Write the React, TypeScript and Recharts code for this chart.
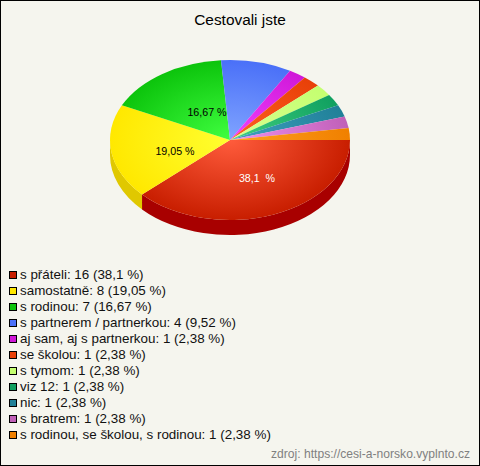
import React from "react";
import { PieChart, Pie, Legend } from "recharts";

const categories = ["s přáteli", "samostatně", "s rodinou", "s partnerem / partnerkou", "aj sam, aj s partnerkou", "se školou", "s tymom", "viz 12", "nic", "s bratrem", "s rodinou, se školou, s rodinou"];
const counts = [16, 8, 7, 4, 1, 1, 1, 1, 1, 1, 1];
const percents = ["38,1", "19,05", "16,67", "9,52", "2,38", "2,38", "2,38", "2,38", "2,38", "2,38", "2,38"];
const swatch = ["#c81e00", "#ffe800", "#0cc40c", "#4a70f8", "#d018d8", "#e84008", "#c4ff70", "#10a060", "#208098", "#c060b8", "#f08000"];
const light = ["#ff5c3c", "#ffff30", "#40ff40", "#80a4ff", "#f040ff", "#ff6020", "#d8ff90", "#40d080", "#40a0c0", "#f090f0", "#ffa020"];
const side = ["#a80000", "#e0c800", "#0a9c0a", "#3a58c8", "#a010a8", "#b83000", "#9ccc58", "#0c804c", "#186678", "#984c90", "#c06000"];
const labelColors = ["#ffffff", "#000000", "#000000"];
const labelOffsets: [number, number][] = [[27, 38], [-55, 11], [-23, -28]];

const W = 480, H = 466, CX = 230, CY = 140, R = 120, SQUASH = 2 / 3, DEPTH = 15;
const rows = categories.map((name, i) => ({ name, value: counts[i], fill: swatch[i], idx: i }));
const rad = (a: number) => (a * Math.PI) / 180;
const pt = (cx: number, cy: number, r: number, a: number) => [cx + r * Math.cos(rad(a)), cy - r * SQUASH * Math.sin(rad(a))];

function TopSlice(p: any) {
  const { cx, cy, outerRadius: r, startAngle, endAngle, index } = p;
  const [x1, y1] = pt(cx, cy, r, startAngle);
  const [x2, y2] = pt(cx, cy, r, endAngle);
  const large = Math.abs(endAngle - startAngle) > 180 ? 1 : 0;
  const id = `g${index}`;
  return (
    <g>
      <defs>
        <radialGradient id={id} gradientUnits="userSpaceOnUse" cx={0} cy={0} r={1} gradientTransform={`translate(${cx} ${cy}) scale(${r} ${r * SQUASH})`}>
          <stop offset="0" stopColor={light[index]} />
          <stop offset="1" stopColor={swatch[index]} />
        </radialGradient>
      </defs>
      <path d={`M${cx} ${cy}L${x1} ${y1}A${r} ${r * SQUASH} 0 ${large} 1 ${x2} ${y2}Z`} fill={`url(#${id})`} />
    </g>
  );
}

function SideSlice(p: any) {
  const { cx, cy, outerRadius: r, startAngle, endAngle, index } = p;
  const a = Math.max(startAngle, -180), b = Math.max(endAngle, -180);
  if (a <= b) return <g />;
  const [x1, y1] = pt(cx, cy, r, a);
  const [x2, y2] = pt(cx, cy, r, b);
  const ry = r * SQUASH;
  return <path d={`M${x1} ${y1}A${r} ${ry} 0 0 1 ${x2} ${y2}L${x2} ${y2 + DEPTH}A${r} ${ry} 0 0 0 ${x1} ${y1 + DEPTH}Z`} fill={side[index]} />;
}

function sliceLabel(p: any) {
  const i = p.index;
  if (i >= labelOffsets.length) return null;
  return (
    <text x={CX + labelOffsets[i][0]} y={CY + labelOffsets[i][1]} textAnchor="middle" dominantBaseline="central" fontSize={10.67} fontFamily="Liberation Sans" fill={labelColors[i]} style={{ whiteSpace: "pre" }}>
      {i === 0 ? `${percents[i]}  %` : `${percents[i]} %`}
    </text>
  );
}

function LegendList() {
  return (
    <div style={{ fontFamily: "Liberation Sans", fontSize: 13.4, color: "#111", lineHeight: "16px" }}>
      {categories.map((c, i) => (
        <div key={c} style={{ height: 16, display: "flex", alignItems: "center", whiteSpace: "nowrap" }}>
          <span style={{ display: "inline-block", width: 6, height: 6, background: swatch[i], border: "1px solid #000", marginRight: 3 }} />
          <span>{`${c}: ${counts[i]} (${percents[i]} %)`}</span>
        </div>
      ))}
    </div>
  );
}

export default function App() {
  return (
    <div style={{ position: "absolute", left: 0, top: 0, width: W, height: H, boxSizing: "border-box", background: "#f5f5ee", border: "1px solid #000", overflow: "hidden" }}>
      <div style={{ position: "absolute", left: -1, top: -1 }}>
        <PieChart width={W} height={H} margin={{ top: 0, right: 0, bottom: 0, left: 0 }}>
          <text x={W / 2} y={25} textAnchor="middle" fontSize={15.4} fontFamily="Liberation Sans" fill="#000">Cestovali jste</text>
          <Pie data={rows} dataKey="value" nameKey="name" cx={CX} cy={CY} outerRadius={R} startAngle={0} endAngle={-360} stroke="none" legendType="none" isAnimationActive={false} shape={SideSlice} />
          <Pie data={rows} dataKey="value" nameKey="name" cx={CX} cy={CY} outerRadius={R} startAngle={0} endAngle={-360} stroke="none" isAnimationActive={false} shape={TopSlice} label={sliceLabel} labelLine={false} />
          <Legend content={<LegendList />} layout="vertical" wrapperStyle={{ position: "absolute", left: 9, top: 267, width: 420 }} />
          <text x={470} y={458} textAnchor="end" fontSize={12.1} fontFamily="Liberation Sans" fill="#808080">zdroj: https://cesi-a-norsko.vyplnto.cz</text>
        </PieChart>
      </div>
    </div>
  );
}
